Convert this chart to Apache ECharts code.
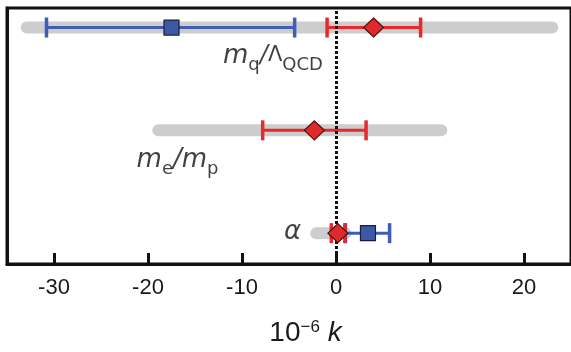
<!DOCTYPE html>
<html>
<head>
<meta charset="utf-8">
<script src="https://cdn.jsdelivr.net/npm/echarts@6/dist/echarts.min.js"></script>
<style>html,body{margin:0;padding:0;background:#fff}#main{width:571px;height:352px}</style>
</head>
<body>
<div id="main"></div>
<script>
// rows from bottom to top: alpha, me/mp, mq/LambdaQCD
var rowNames = ['α', 'me/mp', 'mq/ΛQCD'];
var rowPos = [0, 1, 2];
// grey allowed ranges
var grayLow = [-2.1, -18.9, -32.9];
var grayHigh = [1.0, 11.2, 23.0];
// red points (diamonds) with error bars
var redMid = [0.2, -2.3, 4.0];
var redLow = [-0.5, -7.8, -0.95];
var redHigh = [0.95, 3.2, 9.0];
// blue points (squares) with error bars
var blueMid = [3.4, null, -17.5];
var blueLow = [1.0, null, -30.8];
var blueHigh = [5.7, null, -4.4];
var xTicks = [-30, -20, -10, 0, 10, 20];

var FONT = 'Liberation Sans';
var LFONT = 'DejaVu Sans';
var dom = document.getElementById('main');
var chart = echarts.init(dom);

function rangeData(lo, hi) {
    var d = [];
    for (var i = 0; i < rowPos.length; i++) {
        if (lo[i] == null) continue;
        d.push([lo[i], hi[i], rowPos[i]]);
    }
    return d;
}
function pointData(mid) {
    var d = [];
    for (var i = 0; i < rowPos.length; i++) {
        if (mid[i] == null) continue;
        d.push([mid[i], rowPos[i]]);
    }
    return d;
}
function renderGray(params, api) {
    var a = api.coord([api.value(0), api.value(2)]);
    var b = api.coord([api.value(1), api.value(2)]);
    return {
        type: 'line',
        shape: {x1: a[0], y1: a[1], x2: b[0], y2: b[1]},
        style: {stroke: '#cdcdcd', lineWidth: 12, lineCap: 'round'}
    };
}
function makeErr(color) {
    return function (params, api) {
        var a = api.coord([api.value(0), api.value(2)]);
        var b = api.coord([api.value(1), api.value(2)]);
        var h = 10;
        var st = {stroke: color, lineWidth: 3};
        var cap = {stroke: color, lineWidth: 3.5};
        return {
            type: 'group',
            children: [
                {type: 'line', shape: {x1: a[0], y1: a[1], x2: b[0], y2: b[1]}, style: st},
                {type: 'line', shape: {x1: a[0], y1: a[1] - h, x2: a[0], y2: a[1] + h}, style: cap},
                {type: 'line', shape: {x1: b[0], y1: b[1] - h, x2: b[0], y2: b[1] + h}, style: cap}
            ]
        };
    };
}

// rich markup for the row labels
var richName = {
    'α': '{i|α}',
    'me/mp': '{i|m}{s|e}{i|/m}{s|p}',
    'mq/ΛQCD': '{i|m}{s|q}{n|/}{L|Λ}{s|QCD}'
};
// label anchors (right edge of text), in data units
var labelAnchor = [[-3.7, 0.0], [-12.5, 0.70], [-1.4, 1.71]];
var labelData = [];
for (var k = 0; k < rowNames.length; k++) {
    labelData.push({value: labelAnchor[k], name: rowNames[k]});
}

var option = {
    animation: false,
    grid: {
        left: 7, right: -4, top: 8, bottom: 86,
        show: true, borderColor: '#111', borderWidth: 3, backgroundColor: 'transparent'
    },
    xAxis: {
        type: 'value', min: -35, max: 25,
        name: '10{sup|−6} {i|k}',
        nameLocation: 'middle', nameGap: 55,
        nameTextStyle: {
            fontFamily: FONT, fontSize: 28, color: '#1a1a1a', padding: [0, 0, 0, 33],
            rich: {
                sup: {fontFamily: FONT, fontSize: 17, color: '#1a1a1a', verticalAlign: 'top', lineHeight: 17},
                i: {fontFamily: FONT, fontSize: 28, color: '#1a1a1a', fontStyle: 'italic', verticalAlign: 'top', lineHeight: 28}
            }
        },
        axisLine: {show: true, onZero: false, lineStyle: {color: '#111', width: 3}},
        axisTick: {show: true, inside: true, length: 11, customValues: xTicks, lineStyle: {color: '#111', width: 3}},
        axisLabel: {customValues: xTicks, fontFamily: FONT, fontSize: 22, color: '#1a1a1a', margin: 13},
        splitLine: {show: false}
    },
    yAxis: {
        type: 'value', min: -0.3, max: 2.19,
        axisLine: {show: true, onZero: false, lineStyle: {color: '#111', width: 3}},
        axisTick: {show: false}, axisLabel: {show: false}, splitLine: {show: false}
    },
    series: [
        {
            type: 'line', data: [], z: 1,
            markLine: {
                silent: true, symbol: 'none', label: {show: false},
                lineStyle: {color: '#111', type: [3, 2], width: 3},
                data: [{xAxis: 0}]
            }
        },
        {type: 'custom', z: 2, renderItem: renderGray, encode: {x: [0, 1], y: 2}, data: rangeData(grayLow, grayHigh)},
        {type: 'custom', z: 3, renderItem: makeErr('#3f5db6'), encode: {x: [0, 1], y: 2}, data: rangeData(blueLow, blueHigh)},
        {type: 'custom', z: 4, renderItem: makeErr('#e8282c'), encode: {x: [0, 1], y: 2}, data: rangeData(redLow, redHigh)},
        {
            type: 'scatter', z: 5, symbol: 'rect', symbolSize: 15,
            itemStyle: {color: '#3b59a8', borderColor: '#1b1f3a', borderWidth: 1.2, opacity: 1},
            data: pointData(blueMid)
        },
        {
            type: 'scatter', z: 6, symbol: 'diamond', symbolSize: [20, 19],
            itemStyle: {color: '#df2a2c', borderColor: '#4a1212', borderWidth: 1.2, opacity: 1},
            data: pointData(redMid)
        },
        {
            type: 'scatter', z: 7, symbolSize: 0, silent: true,
            label: {
                show: true, position: 'left', distance: 0,
                formatter: function (p) { return richName[p.name]; },
                rich: {
                    i: {fontFamily: LFONT, fontSize: 26, fontStyle: 'italic', color: '#111', lineHeight: 28, verticalAlign: 'top'},
                    n: {fontFamily: LFONT, fontSize: 24, fontStyle: 'italic', color: '#111', lineHeight: 28, verticalAlign: 'top'},
                    L: {fontFamily: LFONT, fontSize: 21, color: '#111', lineHeight: 28, verticalAlign: 'top', padding: [2, 0, 0, 0]},
                    s: {fontFamily: LFONT, fontSize: 18, color: '#111', lineHeight: 18, verticalAlign: 'top', padding: [13, 0, 0, 0]}
                }
            },
            data: labelData
        }
    ]
};
chart.setOption(option);
</script>
</body>
</html>
